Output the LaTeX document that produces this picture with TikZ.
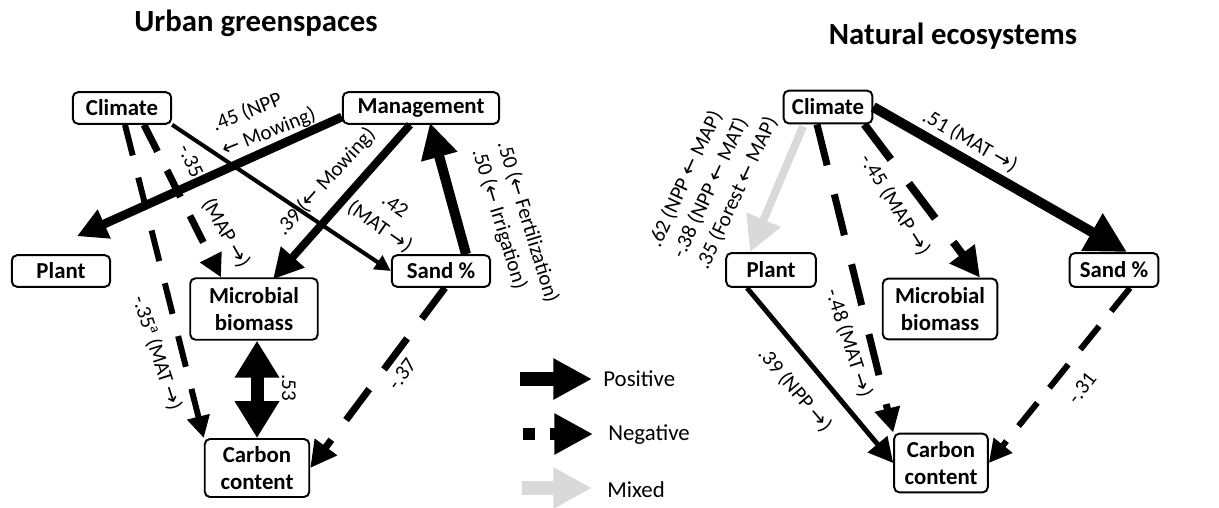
\documentclass[tikz,border=0pt]{standalone}
\usepackage{fontspec}
\setmainfont{Carlito}
\newfontfamily\arrowfont{DejaVu Sans}
\usetikzlibrary{
    arrows.meta,
    calc
}
\definecolor{mixgray}{RGB}{217,217,217}
\newcommand{\rarr}{{\arrowfont\char"2192}}
\newcommand{\larr}{{\arrowfont\char"2190}}

\begin{document}
\begin{tikzpicture}[x=0.02cm,y=-0.02cm,
    box/.style={draw, line width=1.1pt, rounded corners=3pt, fill=white,
        align=center, inner sep=1pt, font=\fontsize{13}{15.5}\selectfont\bfseries},
    lab/.style={inner sep=0pt, font=\fontsize{12}{15}\selectfont},
    legend/.style={inner sep=0pt, font=\fontsize{13}{15}\selectfont},
    title/.style={inner sep=0pt, font=\fontsize{17.5}{20}\selectfont\bfseries},
    arr/.style 2 args={line width=#1, -{Triangle[length=#2,width=#2]}}
]
\useasboundingbox (0,0) rectangle (1219,507);

% Titles
\node[title] (titleL) at (256,23) {Urban greenspaces};
\node[title] (titleR) at (953,36) {Natural ecosystems};

% Urban greenspaces: variables
\node[box, minimum width=56pt, minimum height=18pt] (climL) at (122,108) {Climate};
\node[box, minimum width=89pt, minimum height=18pt] (mgmtL) at (421,108) {Management};
\node[box, minimum width=56pt, minimum height=18pt] (plantL) at (61,271) {Plant};
\node[box, minimum width=56pt, minimum height=18pt] (sandL) at (441,271) {Sand \%};
\node[box, minimum width=72.6pt, minimum height=35pt] (microL) at (254,309) {Microbial\\biomass};
\node[box, minimum width=59.5pt, minimum height=33pt] (carbonL) at (257,468) {Carbon\\content};

% Urban greenspaces: effects
\draw[arr={5pt}{17pt}] ($(mgmtL.west)+(0,9)$) -- ($(plantL.north)+(16,-18)$);
\draw[arr={2.3pt}{9pt}] (climL.south east) -- (sandL.west);
\draw[arr={4pt}{13pt}, dash pattern=on 17pt off 12pt] ($(climL.south)+(22,0)$) -- ($(microL.north)+(-33,0)$);
\draw[arr={3.4pt}{12.5pt}, dash pattern=on 18pt off 13pt] ($(climL.south)+(3,0)$) -- (carbonL.north west);
\draw[arr={4.5pt}{17pt}] ($(mgmtL.south)+(-11,0)$) -- ($(microL.north)+(19,2)$);
\draw[arr={5.7pt}{20pt}] ($(sandL.north)+(25,0)$) -- ($(mgmtL.south)+(9,-2)$);
\draw[line width=7.4pt, {Triangle[length=21pt,width=24pt]}-{Triangle[length=21pt,width=24pt]}]
    ($(microL.south)+(3,0)$) -- (carbonL.north);
\draw[arr={4pt}{15pt}, dash pattern=on 22pt off 14pt] ($(sandL.south)+(4,0)$) -- (carbonL.east);

% Urban greenspaces: labels
\node[lab, align=left, rotate=22] (lab45L) at (264,120) {.45 (NPP\\\larr{} Mowing)};
\node[lab, rotate=-65] (lab35L) at (191,161) {-.35};
\node[lab, rotate=-60] (labmapL) at (226,233) {(MAP \rarr)};
\node[lab, rotate=48] (lab39L) at (326,182) {.39 (\larr{} Mowing)};
\node[lab, align=center, rotate=-35] (lab42L) at (387,217) {.42\\(MAT \rarr)};
\node[lab, align=left, rotate=-73] (lab50L) at (515,226) {.50 (\larr{} Fertilization)\\.50 (\larr{} Irrigation)};
\node[lab, rotate=-72] (lab35aL) at (157,353) {-.35\textsuperscript{a} (MAT \rarr)};
\node[lab, rotate=-90] (lab53L) at (289,388) {.53};
\node[lab, rotate=53] (lab37L) at (402,374) {-.37};

% Natural ecosystems: variables
\node[box, minimum width=50.5pt, minimum height=18.7pt] (climR) at (828,107) {Climate};
\node[box, minimum width=51pt, minimum height=19.3pt] (plantR) at (771,270) {Plant};
\node[box, minimum width=50.5pt, minimum height=19.3pt] (sandR) at (1114,270) {Sand \%};
\node[box, minimum width=65.2pt, minimum height=34.6pt] (microR) at (940,309) {Microbial\\biomass};
\node[box, minimum width=53.3pt, minimum height=33.5pt] (carbonR) at (941,463) {Carbon\\content};

% Natural ecosystems: effects
\draw[arr={4.5pt}{20pt}, draw=mixgray] ($(climR.south)+(-25,2)$) -- ($(plantR.north)+(-21,0)$);
\draw[arr={4pt}{14pt}, dash pattern=on 24pt off 17pt] ($(climR.south)+(-11,0)$) -- (carbonR.north west);
\draw[arr={4.5pt}{17pt}, dash pattern=on 25pt off 17pt] ($(climR.south east)+(-9,0)$) -- ($(microR.north)+(40,0)$);
\draw[arr={5.7pt}{23pt}] (climR.east) -- ($(sandR.north)+(13,0)$);
\draw[arr={2.8pt}{14pt}] ($(plantR.south)+(-24,0)$) -- (carbonR.west);
\draw[arr={3.4pt}{13pt}, dash pattern=on 17pt off 11pt] ($(sandR.south)+(16,0)$) -- (carbonR.east);

% Natural ecosystems: labels
\node[lab, align=left, rotate=65] (lab62R) at (713,182)
    {.62 (NPP \larr{} MAP)\\-.38 (NPP \larr{} MAT)\\.35 (Forest \larr{} MAP)};
\node[lab, rotate=-30] (lab51R) at (970,141) {.51 (MAT \rarr)};
\node[lab, rotate=-58] (lab45R) at (895,205) {-.45 (MAP \rarr)};
\node[lab, rotate=-72] (lab48R) at (849,343) {-.48 (MAT \rarr)};
\node[lab, rotate=-50] (lab39R) at (795,390) {.39 (NPP \rarr)};
\node[lab, rotate=52] (lab31R) at (1082,388) {-.31};

% Legend
\coordinate (posA) at (520,379);
\coordinate (posB) at (592,379);
\coordinate (negA) at (523,434);
\coordinate (negB) at (593,434);
\coordinate (mixA) at (522,488);
\coordinate (mixB) at (592,488);
\draw[line width=7.5pt, -{Triangle[length=22pt,width=22pt]}] (posA) -- (posB);
\draw[line width=6.8pt, dash pattern=on 6.8pt off 8.5pt on 30pt, -{Triangle[length=22pt,width=22pt]}] (negA) -- (negB);
\draw[line width=7.5pt, draw=mixgray, -{Triangle[length=22pt,width=22pt]}] (mixA) -- (mixB);
\node[legend, anchor=west] (posT) at (603,379) {Positive};
\node[legend, anchor=west] (negT) at (608,435) {Negative};
\node[legend, anchor=west] (mixT) at (607,490) {Mixed};

\end{tikzpicture}
\end{document}
